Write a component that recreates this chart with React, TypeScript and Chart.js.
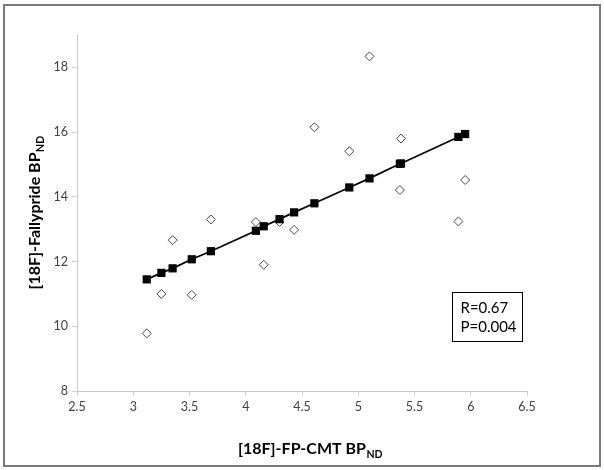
import React, { useEffect, useRef } from "react";
import { Chart, registerables } from "chart.js";

Chart.register(...registerables);

// [18F]-FP-CMT BP_ND (x) for each subject
const fpCmtBP = [3.12, 3.25, 3.35, 3.52, 3.69, 4.09, 4.16, 4.3, 4.43, 4.61, 4.92, 5.1, 5.37, 5.38, 5.89, 5.95];
// observed [18F]-Fallypride BP_ND
const fallyprideBP = [9.78, 11.0, 12.66, 10.97, 13.3, 13.22, 11.9, 13.22, 12.98, 16.15, 15.41, 18.34, 14.21, 15.8, 13.24, 14.52];
// fitted (regression) values
const fittedBP = [11.45, 11.65, 11.79, 12.07, 12.32, 12.95, 13.09, 13.31, 13.52, 13.8, 14.29, 14.57, 15.02, 15.03, 15.85, 15.94];

const xTicks = [2.5, 3, 3.5, 4, 4.5, 5, 5.5, 6, 6.5];
const yTicks = [8, 10, 12, 14, 16, 18];
const xMin = 2.5;
const xMax = 6.5;
const yMin = 8;
const yMax = 19;

const xTitle = "[18F]-FP-CMT BP";
const yTitle = "[18F]-Fallypride BP";
const titleSub = "ND";
const statLines = ["R=0.67", "P=0.004"];

const FONT = "Lato, 'Open Sans', sans-serif";

function drawSubText(ctx: CanvasRenderingContext2D, main: string, sub: string, cx: number, baseline: number) {
  ctx.font = `bold 16px ${FONT}`;
  const wm = ctx.measureText(main).width;
  ctx.font = `bold 10.5px ${FONT}`;
  const ws = ctx.measureText(sub).width;
  const start = cx - (wm + ws) / 2;
  ctx.textAlign = "left";
  ctx.textBaseline = "alphabetic";
  ctx.font = `bold 16px ${FONT}`;
  ctx.fillText(main, start, baseline);
  ctx.font = `bold 10.5px ${FONT}`;
  ctx.fillText(sub, start + wm + 0.5, baseline + 4);
}

const annotationsPlugin = {
  id: "annotationsPlugin",
  afterDraw(chart: any) {
    const { ctx, chartArea: a } = chart;
    ctx.save();
    ctx.fillStyle = "#000";
    // x title
    drawSubText(ctx, xTitle, titleSub, a.left + a.width / 2 + 8, a.bottom + 63);
    // y title
    ctx.save();
    ctx.translate(40, a.top + a.height / 2);
    ctx.rotate(-Math.PI / 2);
    drawSubText(ctx, yTitle, titleSub, 0, 0);
    ctx.restore();
    // stats box
    const bx = a.left + 375.5;
    const by = a.top + 257.5;
    ctx.strokeStyle = "#000";
    ctx.lineWidth = 1;
    ctx.strokeRect(bx, by, 70, 49);
    ctx.font = `15px ${FONT}`;
    ctx.textAlign = "left";
    ctx.textBaseline = "alphabetic";
    ctx.fillText(statLines[0], bx + 8, by + 20);
    ctx.fillText(statLines[1], bx + 8, by + 39.5);
    ctx.restore();
  },
};

export default function App() {
  const ref = useRef<HTMLCanvasElement | null>(null);

  useEffect(() => {
    if (!ref.current) return;
    const observed = fpCmtBP.map((x, i) => ({ x, y: fallyprideBP[i] }));
    const fitted = fpCmtBP.map((x, i) => ({ x, y: fittedBP[i] }));
    const chart = new Chart(ref.current, {
      type: "scatter",
      data: {
        datasets: [
          {
            label: "Fitted",
            data: fitted,
            showLine: true,
            borderColor: "#000",
            borderWidth: 1.75,
            backgroundColor: "#000",
            pointStyle: "rect",
            pointRadius: 5.8,
            pointBorderWidth: 0,
            pointBackgroundColor: "#000",
          },
          {
            label: "Observed",
            data: observed,
            showLine: false,
            pointStyle: "rectRot",
            pointRadius: 4.5,
            pointBorderWidth: 1,
            pointBorderColor: "#444",
            pointBackgroundColor: "#fff",
          },
        ],
      },
      options: {
        responsive: false,
        animation: false,
        layout: { padding: { left: 0, right: 77, top: 35, bottom: 0 } },
        plugins: {
          legend: { display: false },
          tooltip: { enabled: false },
        },
        scales: {
          x: {
            type: "linear",
            min: xMin,
            max: xMax,
            afterBuildTicks: (s: any) => {
              s.ticks = xTicks.map((v) => ({ value: v }));
            },
            afterFit: (s: any) => {
              s.height = 79;
            },
            grid: {
              drawOnChartArea: false,
              drawTicks: true,
              tickLength: 5,
              color: "#d0d0d0",
            },
            border: { display: true, color: "#c8c8c8", width: 1 },
            ticks: {
              color: "#404040",
              padding: 3,
              font: { family: FONT, size: 12.5 },
              maxRotation: 0,
              callback: (v: any) => String(v),
            },
          },
          y: {
            type: "linear",
            min: yMin,
            max: yMax,
            afterBuildTicks: (s: any) => {
              s.ticks = yTicks.map((v) => ({ value: v }));
            },
            afterFit: (s: any) => {
              s.width = 77;
            },
            grid: {
              drawOnChartArea: false,
              drawTicks: true,
              tickLength: 5,
              color: "#d0d0d0",
            },
            border: { display: true, color: "#c8c8c8", width: 1 },
            ticks: {
              color: "#404040",
              padding: 4,
              font: { family: FONT, size: 12.5 },
              callback: (v: any) => String(v),
            },
          },
        },
      },
      plugins: [annotationsPlugin],
    });
    return () => chart.destroy();
  }, []);

  return (
    <div style={{ position: "absolute", left: 0, top: 0, width: 604, height: 470, background: "#fff" }}>
      <canvas ref={ref} width={604} height={470} style={{ display: "block" }} />
      <div
        style={{
          position: "absolute",
          left: 3,
          top: 4,
          width: 598,
          height: 463,
          boxSizing: "border-box",
          border: "2px solid #7a7a7a",
          pointerEvents: "none",
        }}
      />
    </div>
  );
}
